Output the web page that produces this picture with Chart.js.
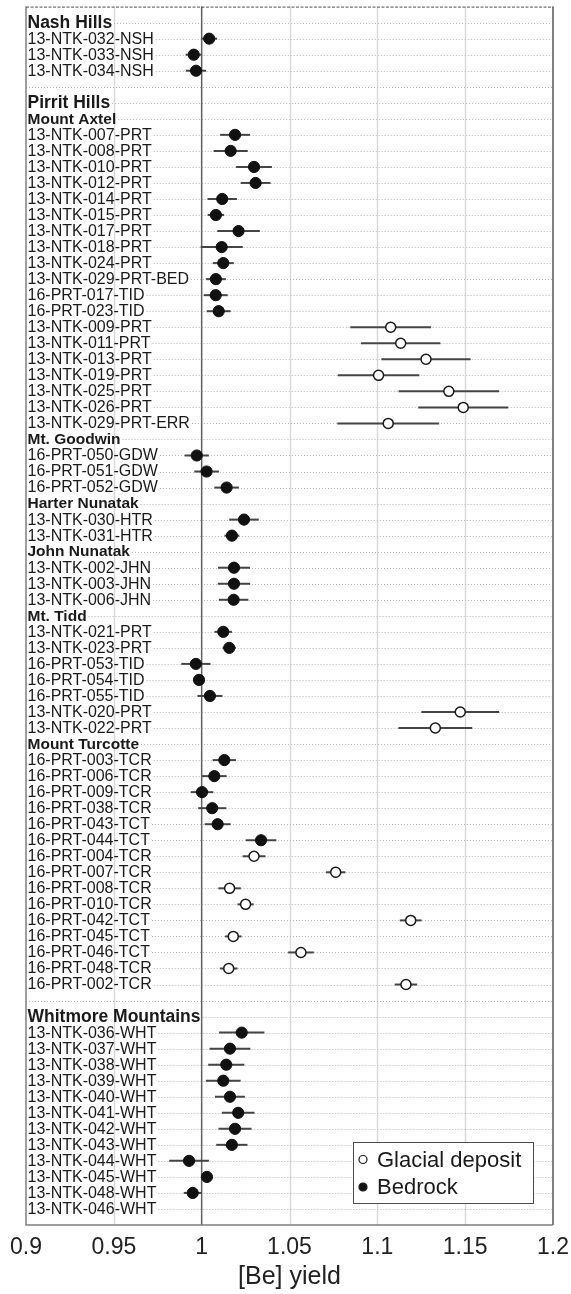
<!DOCTYPE html>
<html>
<head>
<meta charset="utf-8">
<script src="https://cdn.jsdelivr.net/npm/chart.js@4.4.1/dist/chart.umd.min.js"></script>
<style>
  html, body { margin: 0; padding: 0; background: #fff; }
  canvas { display: block; }
</style>
</head>
<body>
<canvas id="chart" width="571" height="1294"></canvas>
<script>
// Row labels, top to bottom; empty strings are spacer rows.
const rowLabels = [
  'Nash Hills', '13-NTK-032-NSH', '13-NTK-033-NSH', '13-NTK-034-NSH', '',
  'Pirrit Hills', 'Mount Axtel',
  '13-NTK-007-PRT', '13-NTK-008-PRT', '13-NTK-010-PRT', '13-NTK-012-PRT', '13-NTK-014-PRT',
  '13-NTK-015-PRT', '13-NTK-017-PRT', '13-NTK-018-PRT', '13-NTK-024-PRT', '13-NTK-029-PRT-BED',
  '16-PRT-017-TID', '16-PRT-023-TID', '13-NTK-009-PRT', '13-NTK-011-PRT', '13-NTK-013-PRT',
  '13-NTK-019-PRT', '13-NTK-025-PRT', '13-NTK-026-PRT', '13-NTK-029-PRT-ERR',
  'Mt. Goodwin', '16-PRT-050-GDW', '16-PRT-051-GDW', '16-PRT-052-GDW',
  'Harter Nunatak', '13-NTK-030-HTR', '13-NTK-031-HTR',
  'John Nunatak', '13-NTK-002-JHN', '13-NTK-003-JHN', '13-NTK-006-JHN',
  'Mt. Tidd', '13-NTK-021-PRT', '13-NTK-023-PRT', '16-PRT-053-TID', '16-PRT-054-TID',
  '16-PRT-055-TID', '13-NTK-020-PRT', '13-NTK-022-PRT',
  'Mount Turcotte', '16-PRT-003-TCR', '16-PRT-006-TCR', '16-PRT-009-TCR', '16-PRT-038-TCR',
  '16-PRT-043-TCT', '16-PRT-044-TCT', '16-PRT-004-TCR', '16-PRT-007-TCR', '16-PRT-008-TCR',
  '16-PRT-010-TCR', '16-PRT-042-TCT', '16-PRT-045-TCT', '16-PRT-046-TCT', '16-PRT-048-TCR',
  '16-PRT-002-TCR', '',
  'Whitmore Mountains', '13-NTK-036-WHT', '13-NTK-037-WHT', '13-NTK-038-WHT', '13-NTK-039-WHT',
  '13-NTK-040-WHT', '13-NTK-041-WHT', '13-NTK-042-WHT', '13-NTK-043-WHT', '13-NTK-044-WHT',
  '13-NTK-045-WHT', '13-NTK-048-WHT', '13-NTK-046-WHT'
];

// Region headings (large bold) and site headings (smaller bold).
const regionHeaders = ['Nash Hills', 'Pirrit Hills', 'Whitmore Mountains'];
const siteHeaders = ['Mount Axtel', 'Mt. Goodwin', 'Harter Nunatak', 'John Nunatak', 'Mt. Tidd', 'Mount Turcotte'];

// Bedrock samples: [Be] yield and uncertainty.
const bedrockSamples = [
  '13-NTK-032-NSH', '13-NTK-033-NSH', '13-NTK-034-NSH',
  '13-NTK-007-PRT', '13-NTK-008-PRT', '13-NTK-010-PRT', '13-NTK-012-PRT', '13-NTK-014-PRT',
  '13-NTK-015-PRT', '13-NTK-017-PRT', '13-NTK-018-PRT', '13-NTK-024-PRT', '13-NTK-029-PRT-BED',
  '16-PRT-017-TID', '16-PRT-023-TID',
  '16-PRT-050-GDW', '16-PRT-051-GDW', '16-PRT-052-GDW',
  '13-NTK-030-HTR', '13-NTK-031-HTR',
  '13-NTK-002-JHN', '13-NTK-003-JHN', '13-NTK-006-JHN',
  '13-NTK-021-PRT', '13-NTK-023-PRT', '16-PRT-053-TID', '16-PRT-054-TID', '16-PRT-055-TID',
  '16-PRT-003-TCR', '16-PRT-006-TCR', '16-PRT-009-TCR', '16-PRT-038-TCR', '16-PRT-043-TCT', '16-PRT-044-TCT',
  '13-NTK-036-WHT', '13-NTK-037-WHT', '13-NTK-038-WHT', '13-NTK-039-WHT', '13-NTK-040-WHT',
  '13-NTK-041-WHT', '13-NTK-042-WHT', '13-NTK-043-WHT', '13-NTK-044-WHT', '13-NTK-045-WHT', '13-NTK-048-WHT'
];
const bedrockYield = [
  1.0043, 0.9955, 0.9968,
  1.0190, 1.0165, 1.0298, 1.0307, 1.0117,
  1.0081, 1.0210, 1.0114, 1.0123, 1.0081,
  1.0080, 1.0097,
  0.9972, 1.0028, 1.0142,
  1.0241, 1.0172,
  1.0184, 1.0184, 1.0182,
  1.0123, 1.0157, 0.9967, 0.9985, 1.0047,
  1.0129, 1.0072, 1.0002, 1.0060, 1.0091, 1.0338,
  1.0228, 1.0161, 1.0140, 1.0123, 1.0161,
  1.0208, 1.0190, 1.0172, 0.9928, 1.0030, 0.9949
];
const bedrockErr = [
  0.0045, 0.0046, 0.0057,
  0.0085, 0.0097, 0.0102, 0.0085, 0.0084,
  0.0047, 0.0121, 0.0120, 0.0060, 0.0057,
  0.0068, 0.0068,
  0.0069, 0.0070, 0.0070,
  0.0084, 0.0042,
  0.0091, 0.0092, 0.0084,
  0.0050, 0.0038, 0.0083, 0.0020, 0.0071,
  0.0066, 0.0070, 0.0064, 0.0080, 0.0074, 0.0087,
  0.0129, 0.0116, 0.0103, 0.0099, 0.0085,
  0.0093, 0.0094, 0.0089, 0.0113, 0.0020, 0.0051
];

// Glacial deposit samples: [Be] yield and uncertainty.
const glacialSamples = [
  '13-NTK-009-PRT', '13-NTK-011-PRT', '13-NTK-013-PRT', '13-NTK-019-PRT',
  '13-NTK-025-PRT', '13-NTK-026-PRT', '13-NTK-029-PRT-ERR',
  '13-NTK-020-PRT', '13-NTK-022-PRT',
  '16-PRT-004-TCR', '16-PRT-007-TCR', '16-PRT-008-TCR', '16-PRT-010-TCR', '16-PRT-042-TCT',
  '16-PRT-045-TCT', '16-PRT-046-TCT', '16-PRT-048-TCR', '16-PRT-002-TCR'
];
const glacialYield = [
  1.1076, 1.1133, 1.1277, 1.1007,
  1.1407, 1.1489, 1.1062,
  1.1472, 1.1330,
  1.0298, 1.0763, 1.0159, 1.0250, 1.1190,
  1.0180, 1.0565, 1.0154, 1.1163
];
const glacialErr = [
  0.0230, 0.0226, 0.0254, 0.0232,
  0.0286, 0.0256, 0.0290,
  0.0221, 0.0210,
  0.0065, 0.0055, 0.0064, 0.0046, 0.0062,
  0.0047, 0.0073, 0.0050, 0.0064
];

// X axis ticks.
const xTicks = [0.9, 0.95, 1, 1.05, 1.1, 1.15, 1.2];
const referenceYield = 1;

const FONT = "'Liberation Sans', Arial, Helvetica, sans-serif";

function toPoints(names, values, errs) {
  return names.map((n, i) => ({ x: values[i], y: rowLabels.indexOf(n), err: errs[i] }));
}

// Grid, frame and the reference line at yield = 1, under the data.
const backdropPlugin = {
  id: 'backdrop',
  beforeDatasetsDraw(chart) {
    const { ctx, chartArea: a, scales: { x, y } } = chart;
    ctx.save();

    // Vertical light grid lines
    ctx.strokeStyle = '#d9d9d9';
    ctx.lineWidth = 1.5;
    xTicks.forEach(v => {
      if (v === referenceYield || v === xTicks[0] || v === xTicks[xTicks.length - 1]) return;
      const px = Math.round(x.getPixelForValue(v)) + 0.5;
      ctx.beginPath(); ctx.moveTo(px, a.top); ctx.lineTo(px, a.bottom); ctx.stroke();
    });

    // Row labels and dotted row guides
    ctx.textBaseline = 'middle';
    ctx.textAlign = 'left';
    rowLabels.forEach((label, i) => {
      const py = y.getPixelForValue(i);
      let textEnd = a.left;
      if (label) {
        let font;
        if (regionHeaders.includes(label)) font = 'bold 17.5px ' + FONT;
        else if (siteHeaders.includes(label)) font = 'bold 15.5px ' + FONT;
        else font = '16px ' + FONT;
        ctx.font = font;
        ctx.fillStyle = '#1a1a1a';
        ctx.fillText(label, a.left + 1.5, py + 0.5);
        textEnd = a.left + 1.5 + ctx.measureText(label).width + 2;
      }
      ctx.save();
      ctx.strokeStyle = '#b5b5b5';
      ctx.lineWidth = 1;
      ctx.setLineDash([1, 2]);
      const ly = Math.round(py) + 0.5;
      ctx.beginPath(); ctx.moveTo(textEnd, ly); ctx.lineTo(a.right, ly); ctx.stroke();
      ctx.restore();
    });

    // Reference line at 1
    const rx = x.getPixelForValue(referenceYield);
    ctx.strokeStyle = '#606060';
    ctx.lineWidth = 1.5;
    ctx.beginPath(); ctx.moveTo(rx, a.top); ctx.lineTo(rx, a.bottom); ctx.stroke();

    // Frame: solid left/bottom/right, dashed top
    ctx.strokeStyle = '#808080';
    ctx.lineWidth = 1.5;
    ctx.beginPath();
    ctx.moveTo(a.left, a.top); ctx.lineTo(a.left, a.bottom); ctx.lineTo(a.right, a.bottom);
    ctx.stroke();
    ctx.lineWidth = 2;
    ctx.beginPath(); ctx.moveTo(a.right, a.top); ctx.lineTo(a.right, a.bottom); ctx.stroke();
    ctx.strokeStyle = '#505050';
    ctx.lineWidth = 1;
    ctx.setLineDash([3, 1.5]);
    ctx.beginPath(); ctx.moveTo(a.left, a.top + 0.5); ctx.lineTo(a.right, a.top + 0.5); ctx.stroke();
    ctx.restore();

    // Horizontal error bars
    ctx.save();
    ctx.strokeStyle = '#454545';
    ctx.lineWidth = 2;
    chart.data.datasets.forEach(ds => {
      ds.data.forEach(p => {
        const py = y.getPixelForValue(p.y);
        ctx.beginPath();
        ctx.moveTo(x.getPixelForValue(p.x - p.err), py);
        ctx.lineTo(x.getPixelForValue(p.x + p.err), py);
        ctx.stroke();
      });
    });
    ctx.restore();
  },
  afterDraw(chart) {
    // Legend box in the lower right of the plot
    const { ctx, chartArea: a } = chart;
    const w = 180, h = 61;
    const left = a.right - 20 - w, top = a.bottom - 22 - h;
    ctx.save();
    ctx.fillStyle = '#fff';
    ctx.fillRect(left, top, w, h);
    ctx.strokeStyle = '#4a4a4a';
    ctx.lineWidth = 1;
    ctx.strokeRect(left + 0.5, top + 0.5, w, h);
    ctx.font = '22px ' + FONT;
    ctx.textBaseline = 'middle';
    ctx.fillStyle = '#1a1a1a';
    chart.data.datasets.forEach((ds, i) => {
      const cy = top + 17.5 + i * 27.5;
      ctx.beginPath();
      ctx.arc(left + 10, cy, 4, 0, Math.PI * 2);
      ctx.fillStyle = ds.pointBackgroundColor;
      ctx.fill();
      ctx.lineWidth = 1.2;
      ctx.strokeStyle = '#1a1a1a';
      ctx.stroke();
      ctx.fillStyle = '#1a1a1a';
      ctx.fillText(ds.label, left + 24, cy + 1);
    });
    ctx.restore();
  }
};

new Chart(document.getElementById('chart'), {
  type: 'scatter',
  data: {
    datasets: [
      {
        label: 'Glacial deposit',
        data: toPoints(glacialSamples, glacialYield, glacialErr),
        pointRadius: 5,
        pointBorderWidth: 1.5,
        pointBackgroundColor: '#ffffff',
        pointBorderColor: '#1a1a1a'
      },
      {
        label: 'Bedrock',
        data: toPoints(bedrockSamples, bedrockYield, bedrockErr),
        pointRadius: 5.6,
        pointBorderWidth: 1,
        pointBackgroundColor: '#111111',
        pointBorderColor: '#111111'
      }
    ]
  },
  options: {
    responsive: false,
    animation: false,
    devicePixelRatio: 1,
    layout: { padding: { left: 26, right: 18, top: 5, bottom: 0 } },
    plugins: {
      legend: { display: false },
      tooltip: { enabled: false }
    },
    scales: {
      x: {
        type: 'linear',
        min: xTicks[0],
        max: xTicks[xTicks.length - 1],
        afterBuildTicks: scale => { scale.ticks = xTicks.map(v => ({ value: v })); },
        afterFit: scale => {
          scale.height = 69;
          scale.paddingLeft = 0;
          scale.paddingRight = 0;
        },
        grid: { display: false, drawTicks: false },
        border: { display: false },
        ticks: {
          padding: 9,
          color: '#222',
          font: { family: FONT, size: 23 },
          maxRotation: 0,
          callback: v => String(+v.toFixed(2))
        },
        title: {
          display: true,
          text: '[Be] yield',
          color: '#222',
          font: { family: FONT, size: 25 },
          padding: { top: 0, bottom: 2 }
        }
      },
      y: {
        type: 'linear',
        display: false,
        reverse: true,
        min: -1,
        max: rowLabels.length
      }
    }
  },
  plugins: [backdropPlugin]
});
</script>
</body>
</html>
